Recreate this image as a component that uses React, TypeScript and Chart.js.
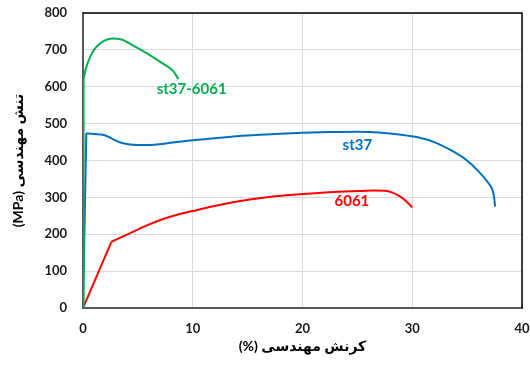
import React, { useEffect, useRef } from "react";
import { Chart, registerables } from "chart.js";

Chart.register(...registerables);

// Engineering stress–strain curves: strain (%) vs stress (MPa).
// The first segment of each curve (index 0 → 1) is the straight elastic part.
const compositeStrain = [0, 0.05, 0.25, 0.5, 0.75, 1.0, 1.5, 2.0, 2.7, 3.5, 4.5, 5.8, 7.0, 8.2, 8.7];
const compositeStress = [0, 620, 648, 670, 687, 700, 716, 726, 731, 728, 713, 691, 668, 643, 621];

const steelStrain = [0, 0.3, 1.0, 1.9, 2.4, 2.9, 3.4, 4.0, 4.6, 5.5, 6.5, 8, 10, 12.5, 15, 17.5, 20, 22.5, 25, 27, 29, 30.5, 32, 33.4, 34.9, 36, 36.7, 37.1, 37.3, 37.45, 37.55];
const steelStress = [0, 474, 472, 469, 463, 455, 449, 445, 443, 442, 443, 448, 455, 462, 468, 472, 475, 477, 478, 476, 470, 463, 450, 430, 402, 372, 348, 332, 321, 302, 275];

const aluminumStrain = [0, 2.6, 4.0, 5.5, 7.0, 8.5, 10, 12.5, 15.2, 17.5, 20, 22.5, 25, 26.5, 27.5, 28.2, 28.8, 29.4, 30.0];
const aluminumStress = [0, 180, 199, 220, 238, 252, 263, 280, 294, 303, 309, 314, 317, 318.5, 318, 313, 304, 291, 273];

const seriesNames = ["st37-6061", "st37", "6061"];
const seriesColors = ["#00B050", "#0070C0", "#FF0000"];
// label anchor points in data units (strain, stress)
const labelStrain = [9.9, 25.0, 24.5];
const labelStress = [594, 442, 290];

const xTicks = [0, 10, 20, 30, 40];
const yTicks = [0, 100, 200, 300, 400, 500, 600, 700, 800];

const xTitle = "\u2067کرنش مهندسی (%)\u2069";
const yTitle = "\u2067تنش مهندسی (MPa)\u2069";

const toPoints = (xs: number[], ys: number[]) => xs.map((x, i) => ({ x, y: ys[i] }));

const frameAndLabels = {
  id: "frameAndLabels",
  beforeDatasetsDraw(chart: any) {
    const { ctx, chartArea } = chart;
    ctx.save();
    ctx.strokeStyle = "#000000";
    ctx.lineWidth = 1.5;
    ctx.beginPath();
    ctx.moveTo(chartArea.left, chartArea.top);
    ctx.lineTo(chartArea.right, chartArea.top);
    ctx.lineTo(chartArea.right, chartArea.bottom);
    ctx.stroke();
    ctx.restore();
  },
  afterDatasetsDraw(chart: any) {
    const { ctx, scales } = chart;
    ctx.save();
    ctx.font = "bold 15px Lato";
    ctx.textAlign = "center";
    ctx.textBaseline = "middle";
    seriesNames.forEach((name, i) => {
      ctx.fillStyle = seriesColors[i];
      ctx.fillText(name, scales.x.getPixelForValue(labelStrain[i]), scales.y.getPixelForValue(labelStress[i]));
    });
    ctx.restore();
  },
};

export default function App() {
  const canvasRef = useRef<HTMLCanvasElement | null>(null);

  useEffect(() => {
    if (!canvasRef.current) return;
    const curves = [
      [compositeStrain, compositeStress],
      [steelStrain, steelStress],
      [aluminumStrain, aluminumStress],
    ];
    const datasets: any[] = [];
    curves.forEach(([xs, ys], i) => {
      // straight elastic segment
      datasets.push({
        label: seriesNames[i] + " elastic",
        data: toPoints(xs.slice(0, 2), ys.slice(0, 2)),
        showLine: true,
        borderColor: seriesColors[i],
        backgroundColor: seriesColors[i],
        borderWidth: 2,
        pointRadius: 0,
        tension: 0,
      });
      // smooth plastic segment
      datasets.push({
        label: seriesNames[i],
        data: toPoints(xs.slice(1), ys.slice(1)),
        showLine: true,
        borderColor: seriesColors[i],
        backgroundColor: seriesColors[i],
        borderWidth: 2,
        pointRadius: 0,
        cubicInterpolationMode: "monotone",
      });
    });
    const chart = new Chart(canvasRef.current, {
      type: "scatter",
      data: { datasets },
      options: {
        animation: false,
        responsive: true,
        maintainAspectRatio: false,
        layout: { padding: { top: 13, right: 8, left: 0, bottom: 0 } },
        plugins: { legend: { display: false }, tooltip: { enabled: false } },
        scales: {
          x: {
            type: "linear",
            min: 0,
            max: 40,
            afterFit: (scale: any) => {
              scale.height = 57;
              scale.paddingLeft = 0;
              scale.paddingRight = 0;
            },
            afterBuildTicks: (scale: any) => {
              scale.ticks = xTicks.map((v) => ({ value: v }));
            },
            grid: { color: "#d9d9d9", lineWidth: 1, drawTicks: false },
            border: { display: true, color: "#595959", width: 2 },
            ticks: {
              padding: 13,
              color: "#1a1a1a",
              font: { family: "Lato", size: 13, weight: "bold" },
            },
            title: {
              display: true,
              text: xTitle,
              color: "#000000",
              padding: { top: 0, bottom: 10 },
              font: { family: "Lato, 'DejaVu Sans'", size: 14, weight: "bold" },
            },
          },
          y: {
            type: "linear",
            min: 0,
            max: 800,
            afterFit: (scale: any) => {
              scale.width = 83;
              scale.paddingTop = 0;
              scale.paddingBottom = 0;
            },
            afterBuildTicks: (scale: any) => {
              scale.ticks = yTicks.map((v) => ({ value: v }));
            },
            grid: { color: "#d9d9d9", lineWidth: 1, drawTicks: false },
            border: { display: true, color: "#595959", width: 2 },
            ticks: {
              padding: 16,
              color: "#1a1a1a",
              font: { family: "Lato", size: 13, weight: "bold" },
            },
            title: {
              display: true,
              text: yTitle,
              color: "#000000",
              padding: { top: 10, bottom: 0 },
              font: { family: "Lato, 'DejaVu Sans'", size: 14, weight: "bold" },
            },
          },
        },
      },
      plugins: [frameAndLabels],
    });
    return () => chart.destroy();
  }, []);

  return (
    <div style={{ position: "fixed", left: 0, top: 0, width: 530, height: 365, background: "#ffffff" }}>
      <canvas ref={canvasRef} />
    </div>
  );
}
